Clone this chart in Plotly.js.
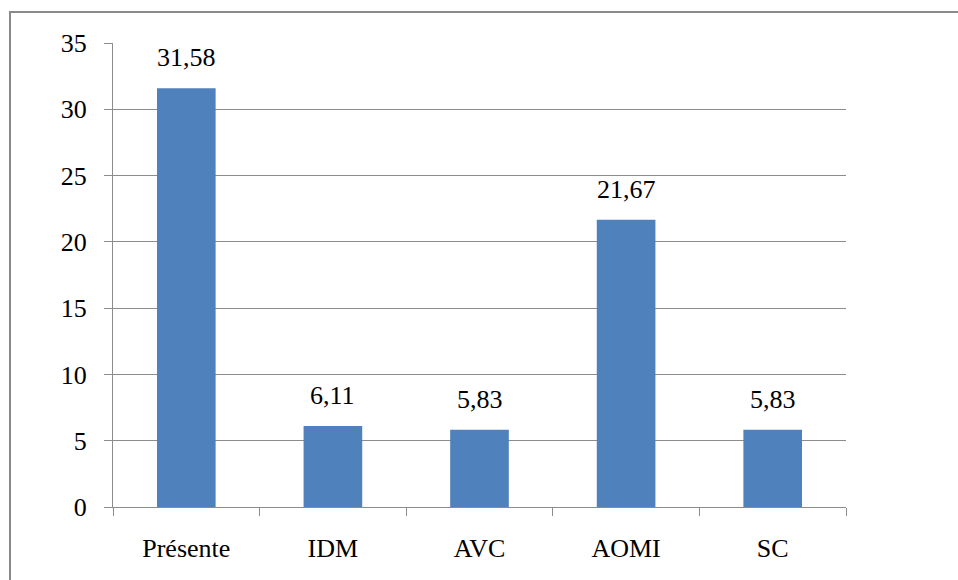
<!DOCTYPE html>
<html>
<head>
<meta charset="utf-8">
<script src="https://cdn.plot.ly/plotly-3.0.1.min.js"></script>
<style>
  html, body { margin: 0; padding: 0; background: #ffffff; font-family: 'Liberation Serif', serif; }
  #chart { width: 958px; height: 580px; }
</style>
</head>
<body>
<div id="chart"></div>
<script>
// Categories and percentages
const categories = ['Présente', 'IDM', 'AVC', 'AOMI', 'SC'];
const values = [31.58, 6.11, 5.83, 21.67, 5.83];
const yTicks = [0, 5, 10, 15, 20, 25, 30, 35];

const textFont = 'Liberation Serif';
const fontSize = 26;
const barColor = '#4F81BD';
const gridColor = '#8c8c8c';

const bars = {
  type: 'bar',
  x: categories,
  y: values,
  marker: { color: barColor, line: { width: 0 } },
  hoverinfo: 'skip'
};

// Value labels above each bar, formatted with a decimal comma
const labels = categories.map((c, i) => ({
  x: c,
  y: values[i],
  xref: 'x',
  yref: 'y',
  text: values[i].toFixed(2).replace('.', ','),
  showarrow: false,
  yanchor: 'bottom',
  yshift: 14,
  font: { family: textFont, size: fontSize, color: '#000000' }
}));

const layout = {
  width: 958,
  height: 580,
  margin: { l: 113, r: 112, t: 43, b: 73 },
  paper_bgcolor: '#ffffff',
  plot_bgcolor: '#ffffff',
  showlegend: false,
  bargap: 0.6,
  xaxis: {
    type: 'category',
    tickson: 'boundaries',
    ticks: 'outside',
    ticklen: 8,
    tickcolor: gridColor,
    tickwidth: 1,
    showgrid: false,
    showline: true,
    linecolor: gridColor,
    linewidth: 1,
    ticklabelstandoff: 18,
    tickfont: { family: textFont, size: fontSize, color: '#000000' }
  },
  yaxis: {
    range: [0, 35],
    tickvals: yTicks,
    ticktext: yTicks.map(String),
    ticks: 'outside',
    ticklen: 8,
    tickcolor: gridColor,
    tickwidth: 1,
    showgrid: true,
    gridcolor: gridColor,
    gridwidth: 1,
    showline: true,
    linecolor: gridColor,
    linewidth: 1,
    zeroline: false,
    ticklabelstandoff: 12,
    tickfont: { family: textFont, size: fontSize, color: '#000000' }
  },
  annotations: labels,
  shapes: [{
    type: 'rect',
    xref: 'paper', yref: 'paper',
    x0: -0.1405, x1: 1.2, y0: -0.2, y1: 1.067,
    line: { color: '#8a8a8a', width: 2 },
    fillcolor: 'rgba(0,0,0,0)',
    layer: 'below'
  }]
};

// Make sure the serif face is resolved before the chart is drawn
const draw = () => Plotly.newPlot('chart', [bars], layout, { displayModeBar: false, staticPlot: true });
if (document.fonts && document.fonts.load) {
  document.fonts.load(fontSize + 'px "' + textFont + '"').then(draw, draw);
} else {
  draw();
}
</script>
</body>
</html>
